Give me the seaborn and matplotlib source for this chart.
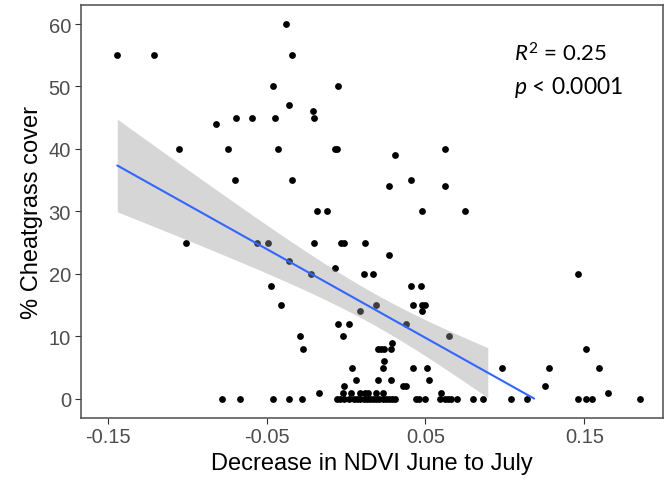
import numpy as np
import pandas as pd
import matplotlib
matplotlib.use("Agg")
import matplotlib.pyplot as plt
import seaborn as sns

# Decrease in NDVI (June to July) and cheatgrass cover (%) per plot
ndvi_drop = [
    # cover 0
    -0.078, -0.067, -0.046, -0.036, -0.028,
    -0.006, -0.004, -0.001, 0.002, 0.005, 0.007, 0.009, 0.011, 0.013,
    0.015, 0.017, 0.019, 0.021, 0.023, 0.025, 0.027, 0.029, 0.031,
    0.044, 0.046, 0.050, 0.059, 0.062, 0.064, 0.066, 0.070,
    0.080, 0.086, 0.104, 0.114, 0.146, 0.151, 0.155, 0.185,
    # cover 1
    -0.017, -0.002, 0.003, 0.009, 0.012, 0.014, 0.019, 0.023, 0.060, 0.165,
    # cover 2
    -0.001, 0.036, 0.038, 0.125,
    # cover 3
    0.006, 0.020, 0.028, 0.052,
    # cover 5
    0.004, 0.023, 0.042, 0.051, 0.098, 0.128, 0.159,
    # cover 6
    0.024,
    # cover 8
    -0.027, 0.020, 0.022, 0.024, 0.028, 0.151,
    # cover 9
    0.029,
    # cover 10
    -0.029, -0.002, 0.065,
    # cover 12
    -0.005, 0.002, 0.038,
    # cover 14
    0.009, 0.048,
    # cover 15
    -0.041, 0.019, 0.042, 0.048, 0.050,
    # cover 18
    -0.047, 0.041, 0.047,
    # cover 20
    -0.022, 0.011, 0.017, 0.146,
    # cover 21, 22, 23
    -0.007, -0.036, 0.027,
    # cover 25
    -0.101, -0.056, -0.049, -0.020, -0.003, -0.001, 0.012,
    # cover 30
    -0.018, -0.012, 0.048, 0.075,
    # cover 34
    0.027, 0.062,
    # cover 35
    -0.070, -0.034, 0.041,
    # cover 39
    0.031,
    # cover 40
    -0.105, -0.074, -0.043, -0.007, -0.006, 0.062,
    # cover 44
    -0.082,
    # cover 45
    -0.069, -0.059, -0.045, -0.020,
    # cover 46, 47
    -0.021, -0.036,
    # cover 50
    -0.046, -0.005,
    # cover 55
    -0.144, -0.121, -0.034,
    # cover 60
    -0.038,
]

cover_groups = [
    (0, 39), (1, 10), (2, 4), (3, 4), (5, 7), (6, 1), (8, 6), (9, 1),
    (10, 3), (12, 3), (14, 2), (15, 5), (18, 3), (20, 4), (21, 1),
    (22, 1), (23, 1), (25, 7), (30, 4), (34, 2), (35, 3), (39, 1),
    (40, 6), (44, 1), (45, 4), (46, 1), (47, 1), (50, 2), (55, 3), (60, 1),
]
cheatgrass = [c for c, k in cover_groups for _ in range(k)]

x_ticks = [-0.15, -0.05, 0.05, 0.15]
x_tick_labels = ["-0.15", "-0.05", "0.05", "0.15"]
y_ticks = [0, 10, 20, 30, 40, 50, 60]

stats_text = ["$\\mathit{R}^{2}$ = 0.25", "$\\mathit{p}$ < 0.0001"]

df = pd.DataFrame({"ndvi": ndvi_drop, "cover": cheatgrass})

# Ordinary least squares fit with a 95% confidence band for the mean
x = df["ndvi"].to_numpy()
y = df["cover"].to_numpy()
n = len(x)
slope, intercept = np.polyfit(x, y, 1)
resid = y - (intercept + slope * x)
s = np.sqrt(np.sum(resid ** 2) / (n - 2))
sxx = np.sum((x - x.mean()) ** 2)
grid = np.linspace(x.min(), x.max(), 80)
fit = intercept + slope * grid
se = s * np.sqrt(1.0 / n + (grid - x.mean()) ** 2 / sxx)
tcrit = 1.976
lo, hi = fit - tcrit * se, fit + tcrit * se
# values outside the 0-60 cover scale are dropped
band_ok = (lo >= 0) & (hi <= 60)
line_ok = (fit >= 0) & (fit <= 60)
fit_df = pd.DataFrame({"ndvi": grid[line_ok], "cover": fit[line_ok]})

sns.set_theme(style="white")
plt.rcParams["font.family"] = ["Liberation Sans", "DejaVu Sans"]
plt.rcParams["mathtext.fontset"] = "custom"
plt.rcParams["mathtext.rm"] = "Lato"
plt.rcParams["mathtext.it"] = "Lato:italic"

fig = plt.figure(figsize=(6.66, 4.81), dpi=100)
ax = fig.add_axes([0.1212, 0.1295, 0.9955 - 0.1212, 0.9870 - 0.1295])

sns.scatterplot(data=df, x="ndvi", y="cover", ax=ax, color="black",
                s=24, linewidth=0, zorder=2)
ax.fill_between(grid, lo, hi, where=band_ok, color="#999999", alpha=0.4,
                linewidth=0, zorder=3)
sns.lineplot(data=fit_df, x="ndvi", y="cover", ax=ax, color="#3366FF",
             linewidth=1.5, zorder=4)

ax.set_xlim(-0.167, 0.1995)
ax.set_ylim(-3, 63)
ax.set_xticks(x_ticks)
ax.set_xticklabels(x_tick_labels)
ax.set_yticks(y_ticks)
ax.tick_params(axis="both", length=4, width=0.8, color="#333333",
               labelsize=14.5, labelcolor="#4D4D4D", pad=3, direction="out",
               bottom=True, left=True)
for side in ax.spines.values():
    side.set_visible(True)
    side.set_color("#4D4D4D")
    side.set_linewidth(1.1)

ax.set_xlabel("Decrease in NDVI June to July", fontsize=17, color="black",
              labelpad=4)
ax.set_ylabel("% Cheatgrass cover", fontsize=17, color="black", labelpad=4)

ax.text(0.1055, 54.1, stats_text[0], fontsize=16, family="Lato",
        va="baseline", ha="left", color="black")
ax.text(0.1055, 48.9, stats_text[1], fontsize=16.5, family="Lato",
        va="baseline", ha="left", color="black")

fig.savefig("out.png", dpi=100)
